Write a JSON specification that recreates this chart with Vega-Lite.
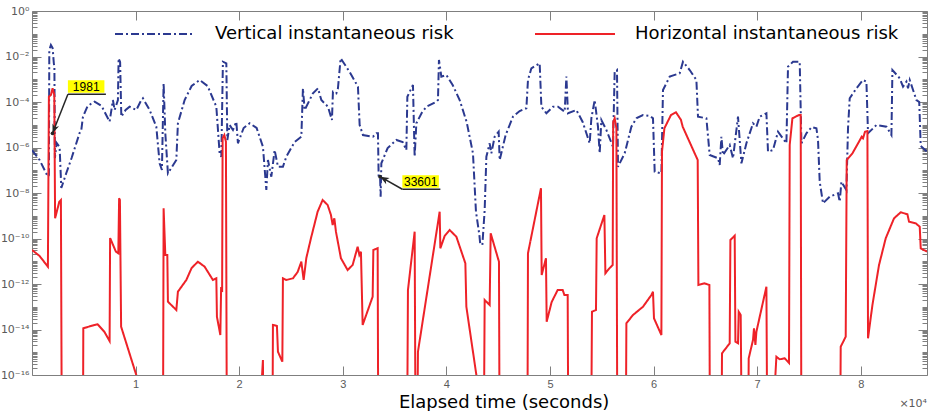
{
  "$schema": "https://vega.github.io/schema/vega-lite/v6.json",
  "width": 895,
  "height": 364,
  "autosize": {"type": "none"},
  "padding": {"left": 32, "top": 11, "right": 2, "bottom": 36},
  "background": "white",
  "config": {
    "view": {"stroke": "#7f7f7f", "strokeWidth": 1},
    "axis": {"grid": false, "domain": false, "tickColor": "#7f7f7f", "tickWidth": 1}
  },
  "datasets": {
    "risk": [
      {"s":"V","t":0,"v":7.76e-7},{"s":"V","t":734,"v":2.82e-7},{"s":"V","t":1535,"v":5.2e-8},{"s":"V","t":1632,"v":6.18e-8},{"s":"V","t":1670,"v":1.93e-2},{"s":"V","t":1825,"v":3.2e-2},{"s":"V","t":1989,"v":2.36e-2},{"s":"V","t":2105,"v":5.18e-3},{"s":"V","t":2163,"v":3.12e-3},{"s":"V","t":2211,"v":3.45e-7},{"s":"V","t":2375,"v":1.58e-6},{"s":"V","t":2665,"v":1.05e-6},{"s":"V","t":2829,"v":1.66e-8},{"s":"V","t":3312,"v":7.57e-8},{"s":"V","t":3823,"v":3.45e-7},{"s":"V","t":4596,"v":4.34e-6},{"s":"V","t":4760,"v":5.88e-6},{"s":"V","t":4914,"v":2.19e-5},{"s":"V","t":5368,"v":6.67e-5},{"s":"V","t":6044,"v":1.03e-4},{"s":"V","t":6720,"v":6.67e-5},{"s":"V","t":7492,"v":1.36e-5},{"s":"V","t":7811,"v":1.22e-4},{"s":"V","t":7975,"v":4.45e-5},{"s":"V","t":8294,"v":1.22e-4},{"s":"V","t":8361,"v":8.34e-3},{"s":"V","t":8506,"v":5.73e-3},{"s":"V","t":8622,"v":2.26e-5},{"s":"V","t":9037,"v":4.45e-5},{"s":"V","t":9423,"v":6.21e-5},{"s":"V","t":10070,"v":4.45e-5},{"s":"V","t":10553,"v":1.22e-4},{"s":"V","t":10707,"v":1.46e-4},{"s":"V","t":11354,"v":4.45e-5},{"s":"V","t":12001,"v":8.2e-6},{"s":"V","t":12320,"v":2.02e-7},{"s":"V","t":12542,"v":1.03e-7},{"s":"V","t":12706,"v":6.64e-4},{"s":"V","t":12870,"v":4.21e-6},{"s":"V","t":13121,"v":7.34e-8},{"s":"V","t":13932,"v":2.82e-7},{"s":"V","t":14087,"v":1.16e-5},{"s":"V","t":14734,"v":1.22e-4},{"s":"V","t":15409,"v":5.05e-4},{"s":"V","t":16182,"v":9.27e-4},{"s":"V","t":16954,"v":5.05e-4},{"s":"V","t":17794,"v":6.21e-5},{"s":"V","t":18113,"v":5.56e-7},{"s":"V","t":18277,"v":3.94e-7},{"s":"V","t":18431,"v":5.91e-3},{"s":"V","t":18760,"v":5.02e-3},{"s":"V","t":18856,"v":2.14e-6},{"s":"V","t":19078,"v":9.75e-6},{"s":"V","t":19397,"v":5.88e-6},{"s":"V","t":19725,"v":1.36e-5},{"s":"V","t":19880,"v":1.53e-6},{"s":"V","t":20430,"v":7.2e-6},{"s":"V","t":21009,"v":1.16e-5},{"s":"V","t":21685,"v":7.2e-6},{"s":"V","t":22293,"v":1.08e-6},{"s":"V","t":22622,"v":1.35e-8},{"s":"V","t":22776,"v":2.82e-7},{"s":"V","t":23104,"v":5.2e-8},{"s":"V","t":23423,"v":7.76e-7},{"s":"V","t":23742,"v":1.43e-7},{"s":"V","t":24224,"v":1.43e-7},{"s":"V","t":24553,"v":3.94e-7},{"s":"V","t":25354,"v":1.75e-6},{"s":"V","t":26001,"v":2.98e-6},{"s":"V","t":26155,"v":4.0e-4},{"s":"V","t":26320,"v":4.45e-5},{"s":"V","t":27121,"v":2.41e-4},{"s":"V","t":27604,"v":4.0e-4},{"s":"V","t":27932,"v":1.22e-4},{"s":"V","t":28569,"v":6.21e-5},{"s":"V","t":28955,"v":1.62e-5},{"s":"V","t":29052,"v":2.84e-4},{"s":"V","t":29380,"v":2.41e-4},{"s":"V","t":29535,"v":4.0e-4},{"s":"V","t":29795,"v":8.34e-3},{"s":"V","t":30017,"v":5.91e-3},{"s":"V","t":30664,"v":2.08e-3},{"s":"V","t":31466,"v":4.71e-4},{"s":"V","t":31630,"v":9.75e-6},{"s":"V","t":31948,"v":3.54e-6},{"s":"V","t":32914,"v":2.98e-6},{"s":"V","t":33242,"v":4.21e-6},{"s":"V","t":33397,"v":4.21e-6},{"s":"V","t":33464,"v":5.2e-8},{"s":"V","t":33601,"v":5.2e-8},{"s":"V","t":33657,"v":6.87e-9},{"s":"V","t":33725,"v":2.02e-7},{"s":"V","t":34333,"v":9.51e-7},{"s":"V","t":35173,"v":2.14e-6},{"s":"V","t":35781,"v":1.75e-6},{"s":"V","t":36139,"v":7.76e-7},{"s":"V","t":36235,"v":1.71e-4},{"s":"V","t":36776,"v":5.59e-4},{"s":"V","t":36940,"v":3.94e-7},{"s":"V","t":37104,"v":1.16e-5},{"s":"V","t":37616,"v":3.28e-5},{"s":"V","t":38070,"v":6.21e-5},{"s":"V","t":39035,"v":1.03e-4},{"s":"V","t":39190,"v":1.22e-4},{"s":"V","t":39286,"v":7.02e-3},{"s":"V","t":39518,"v":1.3e-3},{"s":"V","t":40001,"v":1.54e-3},{"s":"V","t":40609,"v":5.59e-4},{"s":"V","t":41285,"v":1.22e-4},{"s":"V","t":41961,"v":1.32e-5},{"s":"V","t":42569,"v":5.56e-7},{"s":"V","t":42859,"v":1.51e-9},{"s":"V","t":43187,"v":1.43e-10},{"s":"V","t":43264,"v":6.15e-11},{"s":"V","t":43476,"v":5.18e-11},{"s":"V","t":43699,"v":1.79e-9},{"s":"V","t":43863,"v":3.94e-7},{"s":"V","t":44181,"v":1.53e-6},{"s":"V","t":44345,"v":5.56e-7},{"s":"V","t":44664,"v":2.98e-6},{"s":"V","t":45050,"v":4.95e-6},{"s":"V","t":45147,"v":2.82e-7},{"s":"V","t":45726,"v":3.54e-6},{"s":"V","t":46431,"v":2.26e-5},{"s":"V","t":47078,"v":4.02e-5},{"s":"V","t":47725,"v":5.29e-5},{"s":"V","t":47879,"v":9.27e-4},{"s":"V","t":48207,"v":3.03e-3},{"s":"V","t":49009,"v":5.02e-3},{"s":"V","t":49173,"v":6.21e-5},{"s":"V","t":49656,"v":3.19e-5},{"s":"V","t":50293,"v":6.21e-5},{"s":"V","t":50776,"v":6.21e-5},{"s":"V","t":51423,"v":3.75e-5},{"s":"V","t":51587,"v":1.3e-3},{"s":"V","t":51741,"v":3.19e-5},{"s":"V","t":52552,"v":4.45e-5},{"s":"V","t":53160,"v":1.32e-5},{"s":"V","t":53518,"v":4.21e-6},{"s":"V","t":53836,"v":1.53e-6},{"s":"V","t":54000,"v":1.92e-5},{"s":"V","t":54319,"v":1.22e-4},{"s":"V","t":54638,"v":8.2e-6},{"s":"V","t":54802,"v":5.56e-7},{"s":"V","t":54966,"v":1.62e-5},{"s":"V","t":55449,"v":5.88e-6},{"s":"V","t":56086,"v":1.08e-6},{"s":"V","t":56250,"v":2.15e-3},{"s":"V","t":56472,"v":2.55e-3},{"s":"V","t":56569,"v":1.43e-7},{"s":"V","t":57216,"v":5.56e-7},{"s":"V","t":57862,"v":8.2e-6},{"s":"V","t":58374,"v":1.98e-5},{"s":"V","t":58982,"v":2.68e-5},{"s":"V","t":59629,"v":2.43e-5},{"s":"V","t":59948,"v":1.92e-5},{"s":"V","t":60112,"v":8.63e-8},{"s":"V","t":60759,"v":7.34e-8},{"s":"V","t":60913,"v":3.37e-4},{"s":"V","t":61560,"v":1.3e-3},{"s":"V","t":62526,"v":1.83e-3},{"s":"V","t":62844,"v":5.91e-3},{"s":"V","t":63491,"v":2.55e-3},{"s":"V","t":64138,"v":9.27e-4},{"s":"V","t":64293,"v":2.26e-5},{"s":"V","t":65104,"v":1.92e-5},{"s":"V","t":65422,"v":4.68e-7},{"s":"V","t":66224,"v":3.35e-7},{"s":"V","t":66388,"v":1.7e-7},{"s":"V","t":66552,"v":2.98e-6},{"s":"V","t":66706,"v":4.68e-7},{"s":"V","t":67353,"v":1.29e-6},{"s":"V","t":67672,"v":3.35e-7},{"s":"V","t":68155,"v":2.26e-5},{"s":"V","t":68483,"v":2.02e-7},{"s":"V","t":68966,"v":1.53e-6},{"s":"V","t":69603,"v":1.16e-5},{"s":"V","t":69931,"v":8.2e-6},{"s":"V","t":70250,"v":2.26e-5},{"s":"V","t":70897,"v":3.19e-5},{"s":"V","t":71051,"v":6.54e-7},{"s":"V","t":71534,"v":7.76e-7},{"s":"V","t":72017,"v":4.95e-6},{"s":"V","t":72828,"v":1.53e-6},{"s":"V","t":72982,"v":3.56e-3},{"s":"V","t":73465,"v":5.91e-3},{"s":"V","t":74112,"v":5.91e-3},{"s":"V","t":74276,"v":1.53e-6},{"s":"V","t":74759,"v":4.21e-6},{"s":"V","t":75270,"v":7.96e-6},{"s":"V","t":75724,"v":6.98e-6},{"s":"V","t":75879,"v":2.14e-6},{"s":"V","t":76043,"v":3.14e-8},{"s":"V","t":76361,"v":3.52e-9},{"s":"V","t":77008,"v":6.87e-9},{"s":"V","t":77810,"v":9.7e-9},{"s":"V","t":77974,"v":4.15e-9},{"s":"V","t":78138,"v":3.14e-8},{"s":"V","t":78621,"v":1.35e-8},{"s":"V","t":78775,"v":6.98e-6},{"s":"V","t":78939,"v":1.46e-4},{"s":"V","t":79586,"v":4.0e-4},{"s":"V","t":80223,"v":9.27e-4},{"s":"V","t":80552,"v":7.8e-4},{"s":"V","t":80706,"v":4.21e-6},{"s":"V","t":81517,"v":9.75e-6},{"s":"V","t":82483,"v":8.2e-6},{"s":"V","t":82965,"v":3.54e-6},{"s":"V","t":83062,"v":2.55e-3},{"s":"V","t":83767,"v":1.1e-3},{"s":"V","t":84085,"v":4.71e-4},{"s":"V","t":84414,"v":7.8e-4},{"s":"V","t":84568,"v":4.0e-4},{"s":"V","t":84732,"v":9.27e-4},{"s":"V","t":85379,"v":1.22e-4},{"s":"V","t":85650,"v":1.0e-4},{"s":"V","t":85794,"v":1.16e-6},{"s":"V","t":86400,"v":6.54e-7},
      {"s":"H","t":0,"v":3.13e-11},{"s":"H","t":734,"v":1.7e-11},{"s":"H","t":1535,"v":5.75e-12},{"s":"H","t":1632,"v":1.71e-4},{"s":"H","t":1825,"v":2.03e-4},{"s":"H","t":1989,"v":4.0e-4},{"s":"H","t":2153,"v":2.03e-4},{"s":"H","t":2230,"v":7.73e-10},{"s":"H","t":2636,"v":4.15e-9},{"s":"H","t":2790,"v":4.92e-9},{"s":"H","t":2887,"v":1e-20},{"s":"H","t":4914,"v":1e-20},{"s":"H","t":4953,"v":1.13e-14},{"s":"H","t":6015,"v":1.58e-14},{"s":"H","t":6334,"v":1.69e-14},{"s":"H","t":6981,"v":8.0e-15},{"s":"H","t":7492,"v":3.12e-15},{"s":"H","t":7540,"v":1.05e-10},{"s":"H","t":8100,"v":2.63e-11},{"s":"H","t":8332,"v":2.24e-11},{"s":"H","t":8410,"v":5.85e-9},{"s":"H","t":8487,"v":4.92e-9},{"s":"H","t":8603,"v":1.33e-14},{"s":"H","t":10389,"v":3.4e-17},{"s":"H","t":12638,"v":1e-20},{"s":"H","t":12706,"v":2.12e-9},{"s":"H","t":12870,"v":1.88e-11},{"s":"H","t":13063,"v":1.88e-11},{"s":"H","t":13121,"v":1.67e-13},{"s":"H","t":13932,"v":7.2e-14},{"s":"H","t":14087,"v":4.59e-13},{"s":"H","t":14898,"v":1.5e-12},{"s":"H","t":15409,"v":5.05e-12},{"s":"H","t":16018,"v":9.55e-12},{"s":"H","t":16665,"v":5.75e-12},{"s":"H","t":17466,"v":1.5e-12},{"s":"H","t":17794,"v":1.78e-12},{"s":"H","t":17852,"v":3.66e-14},{"s":"H","t":18181,"v":5.73e-15},{"s":"H","t":18258,"v":7.38e-13},{"s":"H","t":18354,"v":4.45e-13},{"s":"H","t":18402,"v":2.54e-6},{"s":"H","t":18567,"v":3.54e-6},{"s":"H","t":18721,"v":1.8e-6},{"s":"H","t":18818,"v":1e-20},{"s":"H","t":21714,"v":1e-20},{"s":"H","t":22293,"v":4.56e-16},{"s":"H","t":22361,"v":1e-20},{"s":"H","t":23201,"v":1e-20},{"s":"H","t":23259,"v":1.58e-14},{"s":"H","t":23645,"v":1.43e-14},{"s":"H","t":23742,"v":1.06e-15},{"s":"H","t":24167,"v":3.84e-16},{"s":"H","t":24224,"v":1.78e-12},{"s":"H","t":24553,"v":1.5e-12},{"s":"H","t":25190,"v":1.78e-12},{"s":"H","t":25644,"v":3.37e-12},{"s":"H","t":26001,"v":9.55e-12},{"s":"H","t":26223,"v":1.5e-12},{"s":"H","t":26484,"v":1.39e-11},{"s":"H","t":26928,"v":1.02e-10},{"s":"H","t":27575,"v":1.51e-9},{"s":"H","t":28057,"v":4.92e-9},{"s":"H","t":28540,"v":2.97e-9},{"s":"H","t":28859,"v":1.08e-9},{"s":"H","t":29023,"v":3.92e-10},{"s":"H","t":29187,"v":7.73e-10},{"s":"H","t":29342,"v":1.99e-10},{"s":"H","t":29824,"v":1.35e-11},{"s":"H","t":30471,"v":4.12e-12},{"s":"H","t":30954,"v":6.84e-12},{"s":"H","t":31437,"v":4.36e-11},{"s":"H","t":31601,"v":1.88e-11},{"s":"H","t":31755,"v":2.63e-11},{"s":"H","t":31920,"v":1.58e-14},{"s":"H","t":32885,"v":2.77e-13},{"s":"H","t":32953,"v":3.13e-11},{"s":"H","t":33368,"v":3.71e-11},{"s":"H","t":33435,"v":1e-20},{"s":"H","t":36197,"v":1e-20},{"s":"H","t":36293,"v":5.45e-13},{"s":"H","t":36940,"v":1.99e-10},{"s":"H","t":37037,"v":1e-20},{"s":"H","t":37162,"v":1e-20},{"s":"H","t":37259,"v":1.06e-15},{"s":"H","t":39354,"v":1.51e-9},{"s":"H","t":39421,"v":3.71e-11},{"s":"H","t":39837,"v":1.29e-10},{"s":"H","t":40319,"v":2.36e-10},{"s":"H","t":40966,"v":1.2e-10},{"s":"H","t":41835,"v":8.13e-12},{"s":"H","t":41931,"v":1.0e-13},{"s":"H","t":43023,"v":4.1e-17},{"s":"H","t":43602,"v":1e-20},{"s":"H","t":43699,"v":1.98e-13},{"s":"H","t":44017,"v":1.42e-13},{"s":"H","t":44181,"v":1.19e-13},{"s":"H","t":44278,"v":1.69e-10},{"s":"H","t":45079,"v":9.55e-12},{"s":"H","t":45147,"v":1e-20},{"s":"H","t":47821,"v":1e-20},{"s":"H","t":47879,"v":2.24e-11},{"s":"H","t":49134,"v":1.61e-8},{"s":"H","t":49202,"v":2.49e-12},{"s":"H","t":49617,"v":1.35e-11},{"s":"H","t":49685,"v":2.2e-14},{"s":"H","t":50167,"v":1.62e-13},{"s":"H","t":50747,"v":5.45e-13},{"s":"H","t":51230,"v":5.45e-13},{"s":"H","t":51394,"v":3.28e-13},{"s":"H","t":51713,"v":3.28e-13},{"s":"H","t":51780,"v":1e-20},{"s":"H","t":53962,"v":1e-20},{"s":"H","t":54058,"v":6.05e-14},{"s":"H","t":54445,"v":7.2e-14},{"s":"H","t":54512,"v":1.02e-10},{"s":"H","t":55256,"v":1.08e-9},{"s":"H","t":55352,"v":2.95e-12},{"s":"H","t":55738,"v":4.9e-12},{"s":"H","t":56057,"v":6.84e-12},{"s":"H","t":56105,"v":1.32e-5},{"s":"H","t":56250,"v":1.92e-5},{"s":"H","t":56415,"v":6.98e-6},{"s":"H","t":56511,"v":1e-20},{"s":"H","t":57312,"v":1e-20},{"s":"H","t":57380,"v":1.87e-14},{"s":"H","t":58017,"v":4.34e-14},{"s":"H","t":58982,"v":1.0e-13},{"s":"H","t":59793,"v":3.28e-13},{"s":"H","t":59948,"v":4.59e-13},{"s":"H","t":60044,"v":3.1e-14},{"s":"H","t":60759,"v":5.73e-15},{"s":"H","t":60817,"v":6.54e-7},{"s":"H","t":61049,"v":6.98e-6},{"s":"H","t":61686,"v":2.68e-5},{"s":"H","t":62169,"v":3.52e-5},{"s":"H","t":62651,"v":1.62e-5},{"s":"H","t":62815,"v":8.2e-6},{"s":"H","t":64264,"v":2.82e-7},{"s":"H","t":64331,"v":9.03e-13},{"s":"H","t":64911,"v":1.07e-12},{"s":"H","t":65393,"v":9.03e-13},{"s":"H","t":65451,"v":1e-20},{"s":"H","t":66552,"v":1e-20},{"s":"H","t":66610,"v":9.0e-16},{"s":"H","t":67353,"v":2.47e-15},{"s":"H","t":67421,"v":8.59e-11},{"s":"H","t":67836,"v":1.33e-10},{"s":"H","t":67904,"v":2.91e-15},{"s":"H","t":68155,"v":2.47e-15},{"s":"H","t":68222,"v":6.05e-14},{"s":"H","t":68415,"v":4.34e-14},{"s":"H","t":68541,"v":1e-20},{"s":"H","t":69120,"v":1e-20},{"s":"H","t":69188,"v":5.42e-16},{"s":"H","t":69603,"v":3.45e-15},{"s":"H","t":69699,"v":1.13e-14},{"s":"H","t":69835,"v":2.08e-15},{"s":"H","t":69931,"v":8.0e-15},{"s":"H","t":70897,"v":7.6e-13},{"s":"H","t":70993,"v":1e-20},{"s":"H","t":71283,"v":1e-20},{"s":"H","t":71862,"v":6.37e-16},{"s":"H","t":72181,"v":4.9e-16},{"s":"H","t":72663,"v":5.42e-16},{"s":"H","t":73079,"v":3.37e-16},{"s":"H","t":73146,"v":1.29e-6},{"s":"H","t":73407,"v":1.92e-5},{"s":"H","t":74044,"v":2.68e-5},{"s":"H","t":74208,"v":2.68e-5},{"s":"H","t":74276,"v":1e-20},{"s":"H","t":78003,"v":1e-20},{"s":"H","t":78070,"v":1.75e-15},{"s":"H","t":78553,"v":4.83e-15},{"s":"H","t":78650,"v":2.82e-7},{"s":"H","t":79200,"v":5.56e-7},{"s":"H","t":79837,"v":1.8e-6},{"s":"H","t":80098,"v":2.98e-6},{"s":"H","t":80223,"v":2.54e-6},{"s":"H","t":80417,"v":4.95e-6},{"s":"H","t":80648,"v":5.31e-6},{"s":"H","t":80706,"v":4.1e-15},{"s":"H","t":81131,"v":1.19e-13},{"s":"H","t":81768,"v":6.84e-12},{"s":"H","t":82415,"v":1.02e-10},{"s":"H","t":83216,"v":7.73e-10},{"s":"H","t":83863,"v":1.42e-9},{"s":"H","t":84510,"v":1.16e-9},{"s":"H","t":84665,"v":5.47e-10},{"s":"H","t":85312,"v":4.66e-10},{"s":"H","t":85698,"v":3.3e-10},{"s":"H","t":85794,"v":3.71e-11},{"s":"H","t":86400,"v":2.63e-11}
    ],
    "notes": [
      {"label": "1981", "ht": 1981, "hv": 4.21e-6, "tt": 3466, "tv": 2.18e-4},
      {"label": "33601", "ht": 33601, "hv": 5.2e-8, "tt": 35753, "tv": 1.46e-8}
    ]
  },
  "layer": [
    {
      "data": {"name": "risk"},
      "transform": [{"filter": "datum.s == 'V'"}],
      "mark": {"type": "line", "clip": true, "strokeWidth": 2},
      "encoding": {
        "x": {"field": "t", "type": "quantitative", "scale": {"domain": [0, 86400], "nice": false, "zero": false},
          "axis": {"orient": "bottom", "values": [10000,20000,30000,40000,50000,60000,70000,80000],
            "labelExpr": "'' + datum.value/10000", "tickSize": -9, "labelPadding": 12,
            "labelFont": "Liberation Sans", "labelFontSize": 11, "labelColor": "#5a5a5a", "labelFlush": false, "labelBaseline": "top",
            "title": "Elapsed time (seconds)", "titleFont": "DejaVu Sans", "titleFontSize": 18, "titleFontWeight": "normal", "titleColor": "#000000",
            "titleX": 471.6, "titleY": 32, "titleAlign": "center", "titleBaseline": "alphabetic"}},
        "y": {"field": "v", "type": "quantitative", "scale": {"type": "log", "domain": [1e-16, 1], "nice": false},
          "axis": {"orient": "left", "title": null,
            "values": [1e-16,2e-16,3e-16,4e-16,5e-16,6e-16,7e-16,8e-16,9e-16,1e-15,2e-15,3e-15,4e-15,5e-15,6e-15,7e-15,8e-15,9e-15,1e-14,2e-14,3e-14,4e-14,5e-14,6e-14,7e-14,8e-14,9e-14,1e-13,2e-13,3e-13,4e-13,5e-13,6e-13,7e-13,8e-13,9e-13,1e-12,2e-12,3e-12,4e-12,5e-12,6e-12,7e-12,8e-12,9e-12,1e-11,2e-11,3e-11,4e-11,5e-11,6e-11,7e-11,8e-11,9e-11,1e-10,2e-10,3e-10,4e-10,5e-10,6e-10,7e-10,8e-10,9e-10,1e-9,2e-9,3e-9,4e-9,5e-9,6e-9,7e-9,8e-9,9e-9,1e-8,2e-8,3e-8,4e-8,5e-8,6e-8,7e-8,8e-8,9e-8,1e-7,2e-7,3e-7,4e-7,5e-7,6e-7,7e-7,8e-7,9e-7,1e-6,2e-6,3e-6,4e-6,5e-6,6e-6,7e-6,8e-6,9e-6,1e-5,2e-5,3e-5,4e-5,5e-5,6e-5,7e-5,8e-5,9e-5,1e-4,2e-4,3e-4,4e-4,5e-4,6e-4,7e-4,8e-4,9e-4,1e-3,2e-3,3e-3,4e-3,5e-3,6e-3,7e-3,8e-3,9e-3,1e-2,2e-2,3e-2,4e-2,5e-2,6e-2,7e-2,8e-2,9e-2,0.1,0.2,0.3,0.4,0.5,0.6,0.7,0.8,0.9,1],
            "labelExpr": "abs(log(datum.value)/LN10/2 - round(log(datum.value)/LN10/2)) < 0.001 ? '10' + replace(replace(replace(replace(replace(replace(replace('' + round(log(datum.value)/LN10), '-', '⁻'), '0', '⁰'), '1', '¹'), '2', '²'), '4', '⁴'), '6', '⁶'), '8', '⁸') : ''",
            "tickSize": {"condition": {"test": "abs(log(datum.value)/LN10/2 - round(log(datum.value)/LN10/2)) < 0.001", "value": -9}, "value": -5},
            "labelPadding": 12, "labelFont": "DejaVu Sans", "labelFontSize": 11, "labelColor": "#5a5a5a",
            "labelOverlap": false, "labelFlush": false, "labelBound": false, "labelAlign": "right", "labelBaseline": "middle"}},
        "color": {"field": "s", "type": "nominal", "scale": {"domain": ["V", "H"], "range": ["#2b3990", "#ee2228"]},
          "legend": {"orient": "none", "legendX": 82, "legendY": -18, "direction": "horizontal", "title": null,
            "symbolType": "stroke", "symbolSize": 6400, "symbolStrokeWidth": 2, "labelOffset": 19, "columnPadding": 77,
            "labelFont": "DejaVu Sans", "labelFontSize": 18, "labelColor": "#000000", "labelLimit": 500, "padding": 0, "offset": 0,
            "labelExpr": "datum.label == 'V' ? 'Vertical instantaneous risk' : 'Horizontal instantaneous risk'"}},
        "strokeDash": {"field": "s", "type": "nominal", "scale": {"domain": ["V", "H"], "range": [[8, 3, 2, 3], [1, 0]]}}
      }
    },
    {
      "data": {"name": "risk"},
      "transform": [{"filter": "datum.s == 'H'"}],
      "mark": {"type": "line", "clip": true, "strokeWidth": 2},
      "encoding": {
        "x": {"field": "t", "type": "quantitative", "scale": {"domain": [0, 86400], "nice": false, "zero": false}, "axis": null},
        "y": {"field": "v", "type": "quantitative", "scale": {"type": "log", "domain": [1e-16, 1], "nice": false}, "axis": null},
        "color": {"field": "s", "type": "nominal"},
        "strokeDash": {"field": "s", "type": "nominal"}
      }
    },
    {
      "data": {"name": "notes"},
      "mark": {"type": "rule", "color": "#262626", "strokeWidth": 1.5},
      "encoding": {
        "x": {"field": "tt", "type": "quantitative", "scale": {"domain": [0, 86400], "nice": false, "zero": false},
          "axis": {"orient": "top", "title": null, "labels": false, "values": [10000,20000,30000,40000,50000,60000,70000,80000], "tickSize": -9}},
        "y": {"field": "tv", "type": "quantitative", "scale": {"type": "log", "domain": [1e-16, 1], "nice": false},
          "axis": {"orient": "right", "title": null, "labels": false,
            "values": [1e-16,2e-16,3e-16,4e-16,5e-16,6e-16,7e-16,8e-16,9e-16,1e-15,2e-15,3e-15,4e-15,5e-15,6e-15,7e-15,8e-15,9e-15,1e-14,2e-14,3e-14,4e-14,5e-14,6e-14,7e-14,8e-14,9e-14,1e-13,2e-13,3e-13,4e-13,5e-13,6e-13,7e-13,8e-13,9e-13,1e-12,2e-12,3e-12,4e-12,5e-12,6e-12,7e-12,8e-12,9e-12,1e-11,2e-11,3e-11,4e-11,5e-11,6e-11,7e-11,8e-11,9e-11,1e-10,2e-10,3e-10,4e-10,5e-10,6e-10,7e-10,8e-10,9e-10,1e-9,2e-9,3e-9,4e-9,5e-9,6e-9,7e-9,8e-9,9e-9,1e-8,2e-8,3e-8,4e-8,5e-8,6e-8,7e-8,8e-8,9e-8,1e-7,2e-7,3e-7,4e-7,5e-7,6e-7,7e-7,8e-7,9e-7,1e-6,2e-6,3e-6,4e-6,5e-6,6e-6,7e-6,8e-6,9e-6,1e-5,2e-5,3e-5,4e-5,5e-5,6e-5,7e-5,8e-5,9e-5,1e-4,2e-4,3e-4,4e-4,5e-4,6e-4,7e-4,8e-4,9e-4,1e-3,2e-3,3e-3,4e-3,5e-3,6e-3,7e-3,8e-3,9e-3,1e-2,2e-2,3e-2,4e-2,5e-2,6e-2,7e-2,8e-2,9e-2,0.1,0.2,0.3,0.4,0.5,0.6,0.7,0.8,0.9,1],
            "tickSize": {"condition": {"test": "abs(log(datum.value)/LN10/2 - round(log(datum.value)/LN10/2)) < 0.001", "value": -9}, "value": -5}}},
        "x2": {"field": "ht"},
        "y2": {"field": "hv"}
      }
    },
    {
      "data": {"name": "notes"},
      "mark": {"type": "point", "shape": "M0,0H38", "size": 4, "filled": false, "stroke": "#262626", "strokeWidth": 1.5, "opacity": 1},
      "encoding": {
        "x": {"field": "tt", "type": "quantitative", "axis": null},
        "y": {"field": "tv", "type": "quantitative", "axis": null}
      }
    },
    {
      "data": {"name": "notes"},
      "mark": {"type": "point", "shape": "M0,-14H36.5V-1.5H0Z", "size": 4, "filled": true, "fill": "#ffff00", "strokeWidth": 0, "opacity": 1},
      "encoding": {
        "x": {"field": "tt", "type": "quantitative", "axis": null},
        "y": {"field": "tv", "type": "quantitative", "axis": null}
      }
    },
    {
      "data": {"name": "notes"},
      "mark": {"type": "text", "dx": 18.3, "dy": -7.7, "align": "center", "baseline": "middle", "font": "Liberation Sans", "fontSize": 12, "color": "#000000"},
      "encoding": {
        "x": {"field": "tt", "type": "quantitative", "axis": null},
        "y": {"field": "tv", "type": "quantitative", "axis": null},
        "text": {"field": "label"}
      }
    },
    {
      "data": {"name": "notes"},
      "transform": [{"filter": "datum.label == '1981'"}],
      "mark": {"type": "point", "shape": "M0,0L6.5,-7.1L2.3,-6.1L-0.04,-9.7Z", "size": 4, "filled": true, "fill": "#262626", "strokeWidth": 0, "opacity": 1},
      "encoding": {
        "x": {"field": "ht", "type": "quantitative", "axis": null},
        "y": {"field": "hv", "type": "quantitative", "axis": null}
      }
    },
    {
      "data": {"name": "notes"},
      "transform": [{"filter": "datum.label == '33601'"}],
      "mark": {"type": "point", "shape": "M0,0L6.1,7.5L5.7,3.2L9.6,1.4Z", "size": 4, "filled": true, "fill": "#262626", "strokeWidth": 0, "opacity": 1},
      "encoding": {
        "x": {"field": "ht", "type": "quantitative", "axis": null},
        "y": {"field": "hv", "type": "quantitative", "axis": null}
      }
    },
    {
      "data": {"name": "notes"},
      "mark": {"type": "point", "shape": "circle", "size": 14, "filled": true, "fill": "#262626", "strokeWidth": 0, "opacity": 1},
      "encoding": {
        "x": {"field": "ht", "type": "quantitative", "axis": null},
        "y": {"field": "hv", "type": "quantitative", "axis": null}
      }
    },
    {
      "data": {"values": [{"m": "×10⁴"}]},
      "mark": {"type": "text", "align": "right", "baseline": "alphabetic", "dy": 32, "font": "DejaVu Sans", "fontSize": 11, "color": "#5a5a5a"},
      "encoding": {
        "x": {"datum": 86400, "type": "quantitative", "axis": null},
        "y": {"datum": 1e-16, "type": "quantitative", "axis": null},
        "text": {"field": "m"}
      }
    }
  ],
  "resolve": {"axis": {"x": "independent", "y": "independent"}}
}
